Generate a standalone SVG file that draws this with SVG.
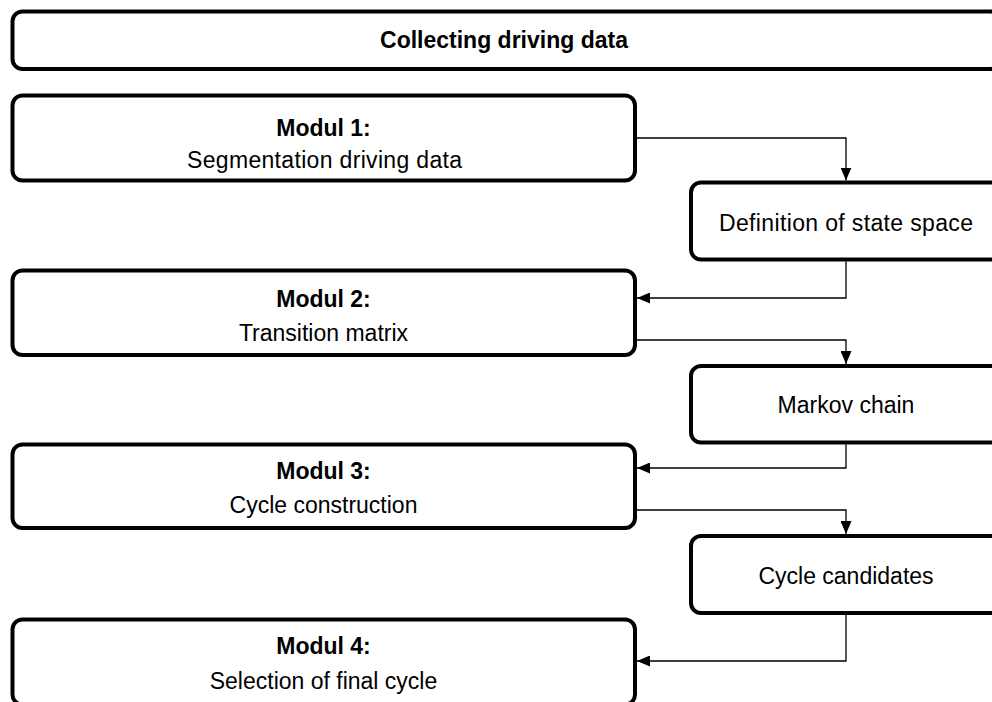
<svg xmlns="http://www.w3.org/2000/svg" width="992" height="702" viewBox="0 0 992 702">
  <style>
    .box { fill: #fff; stroke: #000; stroke-width: 4; }
    .t { font-family: "Liberation Sans", Arial, sans-serif; font-size: 23px; fill: #000; text-anchor: middle; }
    .b { font-weight: bold; }
    .wire { fill: none; stroke: #000; stroke-width: 1.3; }
  </style>
  <defs>
    <marker id="arrow" viewBox="0 0 13 11" refX="13" refY="5.5" markerWidth="13" markerHeight="11" markerUnits="userSpaceOnUse" orient="auto">
      <path d="M0,0 L13,5.5 L0,11 Z" fill="#000"/>
    </marker>
  </defs>
  <rect width="992" height="702" fill="#fff"/>

  <g id="collecting">
    <rect class="box" x="12.5" y="11.5" width="988" height="57.5" rx="10"/>
    <text class="t b" x="504" y="48">Collecting driving data</text>
  </g>

  <g id="modul1">
    <rect class="box" x="12.5" y="95.5" width="622.5" height="85" rx="10"/>
    <text class="t b" x="323.5" y="136">Modul 1:</text>
    <text class="t" x="324.5" y="168" textLength="275">Segmentation driving data</text>
  </g>

  <g id="state-space">
    <rect class="box" x="691" y="182.5" width="310" height="77" rx="10"/>
    <text class="t" x="846" y="231" textLength="254">Definition of state space</text>
  </g>

  <g id="modul2">
    <rect class="box" x="12.5" y="270.5" width="622.5" height="84.5" rx="10"/>
    <text class="t b" x="323.5" y="307">Modul 2:</text>
    <text class="t" x="323.5" y="341">Transition matrix</text>
  </g>

  <g id="markov">
    <rect class="box" x="691" y="366" width="310" height="76.5" rx="10"/>
    <text class="t" x="846" y="413">Markov chain</text>
  </g>

  <g id="modul3">
    <rect class="box" x="12.5" y="444.5" width="622.5" height="83.5" rx="10"/>
    <text class="t b" x="323.5" y="479">Modul 3:</text>
    <text class="t" x="323.5" y="513">Cycle construction</text>
  </g>

  <g id="candidates">
    <rect class="box" x="691" y="536" width="310" height="77" rx="10"/>
    <text class="t" x="846" y="584">Cycle candidates</text>
  </g>

  <g id="modul4">
    <rect class="box" x="12.5" y="619.5" width="622.5" height="85" rx="10"/>
    <text class="t b" x="323.5" y="654">Modul 4:</text>
    <text class="t" x="323.5" y="689">Selection of final cycle</text>
  </g>

  <g id="connectors">
    <path class="wire" d="M635,138 H846 V180.5" marker-end="url(#arrow)"/>
    <path class="wire" d="M846,261.5 V298 H637" marker-end="url(#arrow)"/>
    <path class="wire" d="M635,340 H846 V364" marker-end="url(#arrow)"/>
    <path class="wire" d="M846,444.5 V468 H637" marker-end="url(#arrow)"/>
    <path class="wire" d="M635,510 H846 V534" marker-end="url(#arrow)"/>
    <path class="wire" d="M846,615 V661 H637" marker-end="url(#arrow)"/>
  </g>
</svg>
